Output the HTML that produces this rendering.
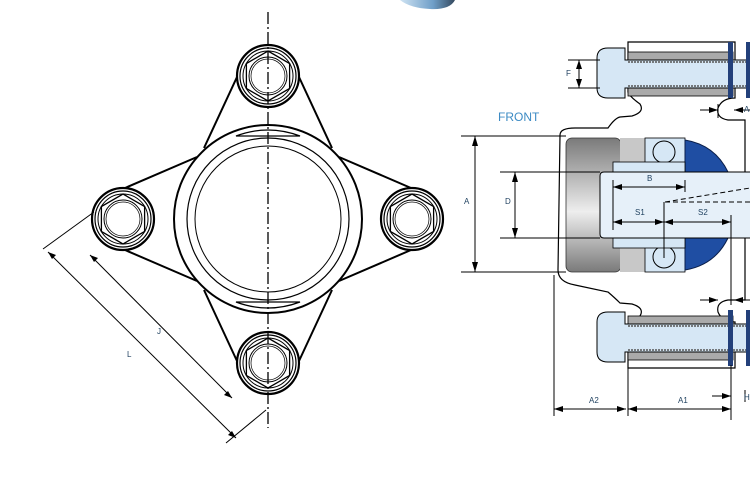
<!DOCTYPE html>
<html><head><meta charset="utf-8"><style>
html,body{margin:0;padding:0;background:#fff;}
svg{display:block;font-family:"Liberation Sans",sans-serif;}
</style></head><body>
<svg width="750" height="500" viewBox="0 0 750 500" xmlns="http://www.w3.org/2000/svg">
<defs>
<linearGradient id="cap" x1="0" y1="0" x2="0" y2="1">
<stop offset="0" stop-color="#7a7a7a"/><stop offset="0.55" stop-color="#eeeeee"/><stop offset="1" stop-color="#7a7a7a"/>
</linearGradient>
<linearGradient id="blob" x1="0" y1="0" x2="1" y2="0">
<stop offset="0" stop-color="#cfe3f3"/><stop offset="0.6" stop-color="#6f9fc8"/><stop offset="1" stop-color="#34495e"/>
</linearGradient>
<g id="bolt">
<circle r="31" fill="#fff" stroke="#000" stroke-width="2.2"/>
<circle r="28" fill="none" stroke="#000" stroke-width="1.2"/>
<circle r="25" fill="none" stroke="#000" stroke-width="1"/>
<polygon points="0,-25 21.6,-12.5 21.6,12.5 0,25 -21.6,12.5 -21.6,-12.5" fill="none" stroke="#000" stroke-width="1.3"/>
<circle r="19" fill="none" stroke="#000" stroke-width="1"/>
<circle r="17" fill="none" stroke="#000" stroke-width="0.7"/>
</g>
</defs>

<path d="M400,0 L455,0 Q450,10 430,9 Q410,8 400,0Z" fill="url(#blob)"/>

<g stroke="#000" stroke-width="2" fill="none">
<line x1="237" y1="77" x2="204" y2="148"/>
<line x1="125" y1="188" x2="197" y2="157"/>
<line x1="299" y1="77" x2="332" y2="148"/>
<line x1="411" y1="188" x2="339" y2="157"/>
<line x1="237" y1="361" x2="204" y2="290"/>
<line x1="125" y1="250" x2="197" y2="281"/>
<line x1="299" y1="361" x2="332" y2="290"/>
<line x1="411" y1="250" x2="339" y2="281"/>
<circle cx="268" cy="219" r="94"/>
<circle cx="268" cy="219" r="81" stroke-width="1.2"/>
<circle cx="268" cy="219" r="73" stroke-width="1"/>
<path d="M236,136 Q268,124 300,136 Z" stroke-width="1.3"/>
<path d="M236,302 Q268,314 300,302 Z" stroke-width="1.3"/>
</g>
<use href="#bolt" x="268" y="76"/>
<use href="#bolt" x="123" y="219"/>
<use href="#bolt" x="412" y="219"/>
<use href="#bolt" x="268" y="363"/>
<line x1="268" y1="12" x2="268" y2="428" stroke="#000" stroke-width="1.3" stroke-dasharray="12,3,2,3"/>

<g stroke="#000" stroke-width="1">
<line x1="43" y1="249" x2="94" y2="212"/>
<line x1="226" y1="443" x2="266" y2="410"/>
<line x1="48" y1="252" x2="236" y2="438"/>
<line x1="90" y1="255" x2="232" y2="398"/>
</g>
<g fill="#000">
<polygon points="48,252 56,255 52,259"/>
<polygon points="236,438 228,435 232,431"/>
<polygon points="90,255 98,258 94,262"/>
<polygon points="232,398 224,395 228,391"/>
</g>
<text x="157" y="334" font-size="8" fill="#1d3f5e">J</text>
<text x="127" y="357" font-size="8" fill="#1d3f5e">L</text>

<text x="498" y="121" font-size="12" fill="#3d8bc4">FRONT</text>
<path d="M560,135 Q560,128 575,128 L608,128 Q615,118 620,117 L632,116 Q645,112 640,104 Q630,97 628,92 L628,42 L735,42 L735,98 Q722,98 718,108 Q716,118 728,120 L745,120 L745,300 L728,300 Q716,302 718,312 Q722,322 735,322 L735,368 L628,368 L628,328 Q630,320 640,316 Q645,308 632,304 L620,303 Q615,298 608,292 L575,285 Q558,282 558,270 Z" fill="#fff" stroke="#000" stroke-width="1.2"/>
<rect x="628" y="52" width="105" height="10" fill="#aaa" stroke="#000" stroke-width="0.8"/>
<rect x="628" y="86" width="105" height="10" fill="#aaa" stroke="#000" stroke-width="0.8"/>
<path d="M597,58 Q597,48 608,48 L625,48 L625,60 L750,60 L750,88 L625,88 L625,98 L608,98 Q597,98 597,88Z" fill="#d6e7f5" stroke="#000" stroke-width="1"/>
<line x1="628" y1="62" x2="750" y2="62" stroke="#555" stroke-width="1.5" stroke-dasharray="2,1"/>
<line x1="628" y1="86" x2="750" y2="86" stroke="#555" stroke-width="1.5" stroke-dasharray="2,1"/>
<rect x="728" y="42" width="5" height="56" fill="#23407a"/>
<rect x="746" y="42" width="4" height="56" fill="#23407a"/>
<rect x="628" y="316" width="105" height="10" fill="#aaa" stroke="#000" stroke-width="0.8"/>
<rect x="628" y="350" width="105" height="10" fill="#aaa" stroke="#000" stroke-width="0.8"/>
<path d="M597,322 Q597,312 608,312 L625,312 L625,324 L750,324 L750,352 L625,352 L625,362 L608,362 Q597,362 597,352Z" fill="#d6e7f5" stroke="#000" stroke-width="1"/>
<line x1="628" y1="326" x2="750" y2="326" stroke="#555" stroke-width="1.5" stroke-dasharray="2,1"/>
<line x1="628" y1="350" x2="750" y2="350" stroke="#555" stroke-width="1.5" stroke-dasharray="2,1"/>
<rect x="728" y="310" width="5" height="56" fill="#23407a"/>
<rect x="746" y="310" width="4" height="56" fill="#23407a"/>
<rect x="566" y="138" width="55" height="134" rx="6" fill="url(#cap)" stroke="#333" stroke-width="0.8"/>
<rect x="620" y="138" width="25" height="134" fill="#c8c8c8"/>
<rect x="645" y="138" width="40" height="26" fill="#d6e7f5" stroke="#000" stroke-width="0.8"/>
<rect x="645" y="246" width="40" height="26" fill="#d6e7f5" stroke="#000" stroke-width="0.8"/>
<circle cx="664" cy="152" r="11" fill="#d6e7f5" stroke="#000"/>
<circle cx="664" cy="257" r="11" fill="#d6e7f5" stroke="#000"/>
<path d="M685,140 Q715,145 728,172 L685,172Z" fill="#1f4ea3" stroke="#0b1f4a"/>
<path d="M685,270 Q715,265 728,238 L685,238Z" fill="#1f4ea3" stroke="#0b1f4a"/>
<rect x="613" y="162" width="72" height="10" fill="#d6e7f5" stroke="#000" stroke-width="0.8"/>
<rect x="613" y="238" width="72" height="10" fill="#d6e7f5" stroke="#000" stroke-width="0.8"/>
<path d="M750,172 L604,172 Q600,172 600,176 L600,234 Q600,238 604,238 L750,238" fill="#e6f0f9" stroke="#000" stroke-width="1"/>
<line x1="665" y1="202" x2="750" y2="188" stroke="#000" stroke-dasharray="5,3"/>
<line x1="665" y1="202" x2="750" y2="202" stroke="#000" stroke-dasharray="5,3"/>
<line x1="664" y1="202" x2="664" y2="258" stroke="#000" stroke-width="1"/>
<line x1="731" y1="215" x2="731" y2="305" stroke="#000" stroke-width="1"/>

<g stroke="#000" stroke-width="1">
<line x1="461" y1="136" x2="566" y2="136"/>
<line x1="461" y1="272" x2="566" y2="272"/>
<line x1="475" y1="136" x2="475" y2="272"/>
<line x1="500" y1="172" x2="600" y2="172"/>
<line x1="500" y1="238" x2="600" y2="238"/>
<line x1="515" y1="172" x2="515" y2="238"/>
<line x1="568" y1="60" x2="600" y2="60"/>
<line x1="568" y1="88" x2="600" y2="88"/>
<line x1="579" y1="60" x2="579" y2="88"/>
<line x1="613" y1="187" x2="685" y2="187"/>
<line x1="613" y1="222" x2="664" y2="222"/>
<line x1="664" y1="222" x2="731" y2="222"/>
<line x1="613" y1="180" x2="613" y2="230"/>
<line x1="685" y1="180" x2="685" y2="192"/>
<line x1="554" y1="275" x2="554" y2="416"/>
<line x1="628" y1="368" x2="628" y2="416"/>
<line x1="731" y1="365" x2="731" y2="420"/>
<line x1="554" y1="409" x2="626" y2="409"/>
<line x1="628" y1="409" x2="731" y2="409"/>
<line x1="712" y1="396" x2="731" y2="396"/>
<line x1="745" y1="390" x2="745" y2="402"/>
<line x1="700" y1="110" x2="718" y2="110"/>
<line x1="734" y1="110" x2="750" y2="110"/>
<line x1="718" y1="104" x2="718" y2="118"/>
<line x1="700" y1="300" x2="718" y2="300"/>
<line x1="734" y1="300" x2="750" y2="300"/>
</g>
<g fill="#000">
<polygon points="475,136 472,146 478,146"/><polygon points="475,272 472,262 478,262"/>
<polygon points="515,172 512,182 518,182"/><polygon points="515,238 512,228 518,228"/>
<polygon points="579,60 576,69 582,69"/><polygon points="579,88 576,79 582,79"/>
<polygon points="613,187 622,184 622,190"/><polygon points="685,187 676,184 676,190"/>
<polygon points="613,222 622,219 622,225"/><polygon points="664,222 655,219 655,225"/>
<polygon points="664,222 673,219 673,225"/><polygon points="731,222 722,219 722,225"/>
<polygon points="554,409 563,406 563,412"/><polygon points="626,409 617,406 617,412"/>
<polygon points="628,409 637,406 637,412"/><polygon points="731,409 722,406 722,412"/>
<polygon points="731,396 722,393 722,399"/>
<polygon points="718,110 709,107 709,113"/><polygon points="734,110 743,107 743,113"/>
<polygon points="718,300 709,297 709,303"/><polygon points="734,300 743,297 743,303"/>
</g>
<g font-size="8" fill="#1d3f5e">
<text x="464" y="204">A</text>
<text x="505" y="204">D</text>
<text x="566" y="76">F</text>
<text x="647" y="181">B</text>
<text x="635" y="215">S1</text>
<text x="698" y="215">S2</text>
<text x="589" y="403">A2</text>
<text x="678" y="403">A1</text>
<text x="744" y="112">A</text>
<text x="744" y="400">H</text>
</g>
</svg>
</body></html>
